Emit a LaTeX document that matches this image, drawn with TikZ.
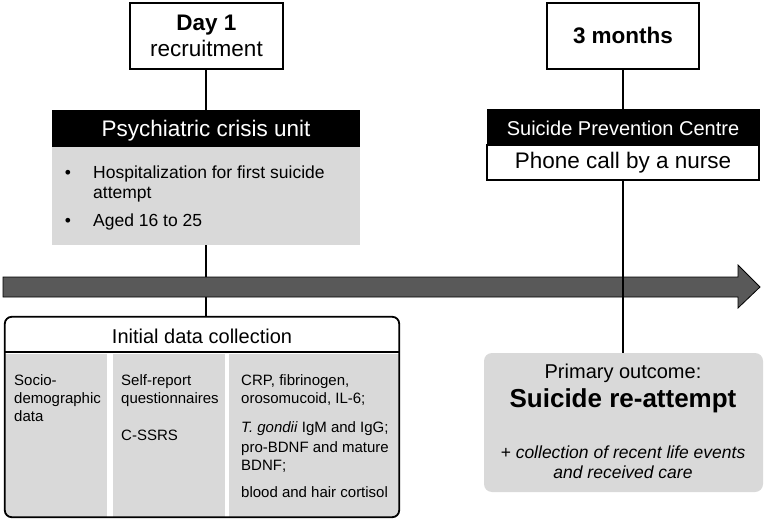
\documentclass[tikz,border=0pt]{standalone}
\usepackage{fontspec}
\setmainfont{Liberation Sans}
\definecolor{boxgray}{HTML}{D9D9D9}
\definecolor{arrowgray}{HTML}{595959}
\begin{document}
\begin{tikzpicture}[x=1pt,y=-1pt,
  txt/.style={inner sep=0pt, anchor=base},
  ltxt/.style={inner sep=0pt, anchor=base west},
  frame/.style={draw=black, line width=1.8pt, fill=white, inner sep=0pt},
  conn/.style={line width=2.2pt},
  big/.style={font=\fontsize{22.5}{27}\selectfont},
  mid/.style={font=\fontsize{20}{24}\selectfont},
  bul/.style={font=\fontsize{17.5}{21}\selectfont},
  small/.style={font=\fontsize{15}{18}\selectfont}]
\useasboundingbox (0,0) rectangle (765,521);

% ---- Day 1 column ----
\node[frame, minimum width=153pt, minimum height=66pt] (day1) at (206.5,36) {};
\node[txt, big] (day1a) at (206.5,31) {\textbf{Day 1}};
\node[txt, big] (day1b) at (206.5,57) {recruitment};

\node[fill=black, inner sep=0pt, minimum width=308pt, minimum height=37pt] (crisishead) at (206,128.5) {};
\node[fill=boxgray, inner sep=0pt, minimum width=308pt, minimum height=98pt] (crisisbody) at (206,196) {};
\node[txt, big, text=white] (crisist) at (206,137) {Psychiatric crisis unit};
\node[txt, bul] (b1) at (68,179) {\textbullet};
\node[ltxt, bul] (c1) at (93,179) {Hospitalization for first suicide};
\node[ltxt, bul] (c2) at (93,199) {attempt};
\node[txt, bul] (b2) at (68,227) {\textbullet};
\node[ltxt, bul] (c3) at (93,227) {Aged 16 to 25};

\draw[conn] (day1.south -| crisishead.north) -- (crisishead.north);

% ---- Initial data collection ----
\node[inner sep=0pt, minimum width=394pt, minimum height=200pt] (init) at (202,417) {};
\draw[conn] (crisisbody.south) -- (crisisbody.south |- init.north);
\fill[white, rounded corners=7pt] (init.north west) rectangle (init.south east);
\begin{scope}
  \clip[rounded corners=7pt] (init.north west) rectangle (init.south east);
  \fill[boxgray] (5,354) rectangle (107,517);
  \fill[boxgray] (113,354) rectangle (225,517);
  \fill[boxgray] (229,354) rectangle (399,517);
\end{scope}
\draw[line width=1.2pt] (init.west |- 0,352) -- (init.east |- 0,352);
\draw[line width=1.8pt, rounded corners=7pt] (init.north west) rectangle (init.south east);
\node[txt, mid] (initt) at (202,343) {Initial data collection};

\node[ltxt, small] (s1) at (14,385) {Socio-};
\node[ltxt, small] (s2) at (14,403) {demographic};
\node[ltxt, small] (s3) at (14,421) {data};

\node[ltxt, small] (q1) at (121,385) {Self-report};
\node[ltxt, small] (q2) at (121,403) {questionnaires};
\node[ltxt, small] (q3) at (121,440) {C-SSRS};

\node[ltxt, small] (m1) at (241,385) {CRP, fibrinogen,};
\node[ltxt, small] (m2) at (241,403) {orosomucoid, IL-6;};
\node[ltxt, small] (m3) at (241,432) {\textit{T. gondii} IgM and IgG;};
\node[ltxt, small] (m4) at (241,452) {pro-BDNF and mature};
\node[ltxt, small] (m5) at (241,470) {BDNF;};
\node[ltxt, small] (m6) at (241,497) {blood and hair cortisol};

% ---- timeline arrow ----
\filldraw[fill=arrowgray, draw=black, line width=0.8pt]
  (3,277) -- (738,277) -- (738,265) -- (760,287) -- (738,308) -- (738,297) -- (3,297) -- cycle;

% ---- 3 months column ----
\node[frame, minimum width=152pt, minimum height=66pt] (months) at (623,36) {};
\node[txt, big] (monthst) at (623,44) {\textbf{3 months}};

\node[fill=black, draw=black, line width=1pt, inner sep=0pt, minimum width=272pt, minimum height=35pt] (spchead) at (623,127.5) {};
\node[fill=white, draw=black, line width=1.2pt, inner sep=0pt, minimum width=272pt, minimum height=35pt] (spcbody) at (623,162.5) {};
\node[txt, mid, text=white] (spct) at (623,136) {Suicide Prevention Centre};
\node[txt, big] (phonet) at (623,168.5) {Phone call by a nurse};

\draw[conn] (months.south) -- (spchead.north);

\node[fill=boxgray, rounded corners=8pt, inner sep=0pt, minimum width=279pt, minimum height=139pt] (outcome) at (623.5,422.5) {};
\draw[conn] (spcbody.south) -- (spcbody.south |- outcome.north);
\node[txt, mid] (o1) at (623,378) {Primary outcome:};
\node[txt, font=\fontsize{26}{31}\selectfont\bfseries] (o2) at (623,407) {Suicide re-attempt};
\node[txt, bul] (o3) at (623,458) {\textit{+ collection of recent life events}};
\node[txt, bul] (o4) at (623,478) {\textit{and received care}};
\end{tikzpicture}
\end{document}
